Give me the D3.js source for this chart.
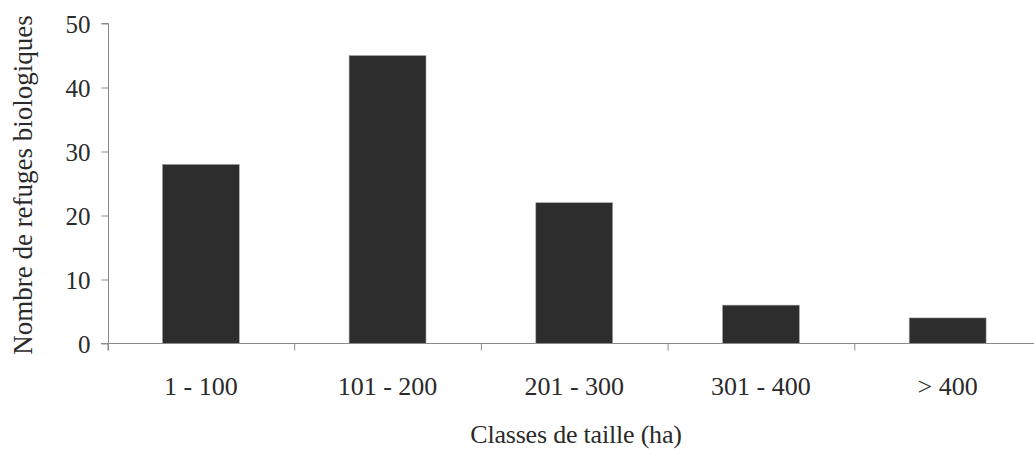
<!DOCTYPE html>
<html><head><meta charset="utf-8">
<script src="https://cdn.jsdelivr.net/npm/d3@7"></script>
<style>body{margin:0;background:#fff}svg{display:block}text{font-family:"Liberation Serif","Times New Roman",serif;fill:#2a2a2a}</style>
</head><body><svg id="c" width="1034" height="449"></svg>
<script>
const categories = ["1 - 100", "101 - 200", "201 - 300", "301 - 400", "> 400"];
const values = [28, 45, 22, 6, 4];
const yTicks = [0, 10, 20, 30, 40, 50];
const xTitle = "Classes de taille (ha)";
const yTitle = "Nombre de refuges biologiques";

const svg = d3.select("#c");
const x = d3.scaleBand().domain(categories).range([107.5, 1041]).paddingInner(0.588).paddingOuter(0.294);
const xEdge = d3.scaleLinear().domain([0, categories.length]).range([107.5, 1041]);
const y = d3.scaleLinear().domain([0, 50]).range([343.5, 23.5]);
const axisColor = "#8a8a8a";

// y axis
const ya = svg.append("g").attr("transform", "translate(108.5,0)")
  .call(d3.axisLeft(y).tickValues(yTicks).tickSize(7).tickPadding(11).tickFormat(d3.format("d")));
ya.select(".domain").attr("stroke", axisColor).attr("d", "M-7," + y(50) + "H0V" + (y(0) + 7));
ya.selectAll(".tick line").attr("stroke", axisColor);
ya.selectAll(".tick text").attr("font-size", 25).attr("font-family", "Liberation Serif").attr("fill", "#2a2a2a").attr("dy", "0.34em");

// bars
svg.append("g").selectAll("rect").data(values).join("rect")
  .attr("x", (d, i) => x(categories[i]))
  .attr("y", d => y(d))
  .attr("width", x.bandwidth())
  .attr("height", d => y(0) - y(d))
  .attr("fill", "#2d2d2d").attr("stroke", "#aaa").attr("stroke-width", 0.6);

// x axis line + boundary ticks
const xa = svg.append("g");
xa.append("line").attr("x1", 101).attr("x2", 1034).attr("y1", y(0)).attr("y2", y(0)).attr("stroke", axisColor);
xa.selectAll("line.t").data(d3.range(categories.length)).join("line").attr("class", "t")
  .attr("x1", i => xEdge(i) + 0.5).attr("x2", i => xEdge(i) + 0.5)
  .attr("y1", y(0)).attr("y2", y(0) + 7).attr("stroke", axisColor);
xa.selectAll("text").data(categories).join("text")
  .attr("x", d => x(d) + x.bandwidth() / 2).attr("y", 395)
  .attr("text-anchor", "middle").attr("font-size", 26).text(d => d);

// titles
svg.append("text").attr("x", 576).attr("y", 443).attr("text-anchor", "middle")
  .attr("font-size", 26).attr("letter-spacing", "-0.2").text(xTitle);
svg.append("text").attr("transform", "translate(32,185) rotate(-90)").attr("text-anchor", "middle")
  .attr("font-size", 27).text(yTitle);
</script></body></html>
